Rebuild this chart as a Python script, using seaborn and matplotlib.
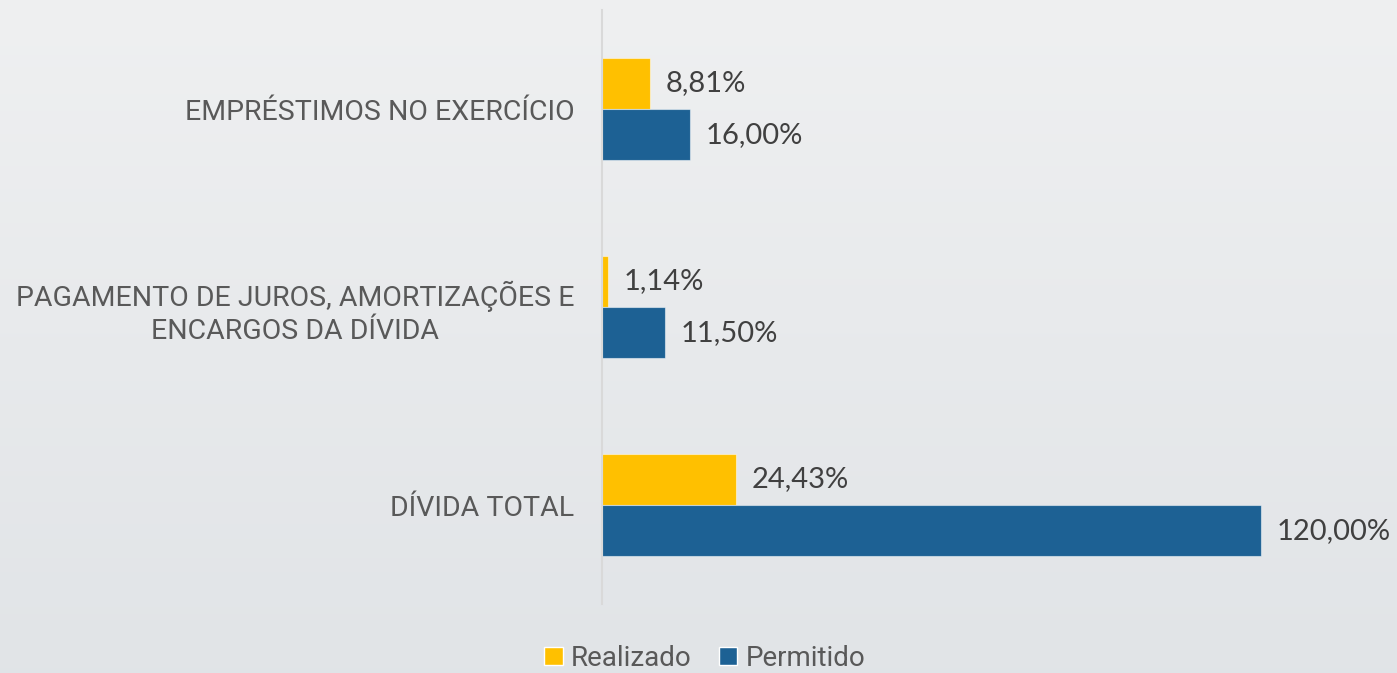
import numpy as np
import pandas as pd
import matplotlib
matplotlib.use("Agg")
import matplotlib.pyplot as plt
import seaborn as sns
from matplotlib.patches import Patch

# data
categorias = ["EMPRÉSTIMOS NO EXERCÍCIO",
              "PAGAMENTO DE JUROS, AMORTIZAÇÕES E\nENCARGOS DA DÍVIDA",
              "DÍVIDA TOTAL"]
realizado = [8.81, 1.14, 24.43]
permitido = [16.00, 11.50, 120.00]
series = ["Realizado", "Permitido"]
cores = ["#FFC000", "#1D6194"]

df = pd.DataFrame({
    "categoria": categorias * 2,
    "valor": realizado + permitido,
    "serie": [series[0]] * 3 + [series[1]] * 3,
})

sns.set_style("white")
narrow = ["Roboto", "DejaVu Sans"]
valfont = ["Lato", "DejaVu Sans"]

fig = plt.figure(figsize=(13.97, 6.73), dpi=100)

# background gradient
bg = fig.add_axes([0, 0, 1, 1], zorder=-10)
grad = np.linspace(0, 1, 256).reshape(-1, 1)
top = np.array([0.937, 0.941, 0.945])
bot = np.array([0.882, 0.894, 0.906])
img = top + (bot - top) * grad[..., None]
bg.imshow(img, aspect="auto", extent=[0, 1, 0, 1], origin="upper")
bg.axis("off")

ax = fig.add_axes([602 / 1397, 69 / 673, 769 / 1397, 594 / 673])
ax.patch.set_alpha(0)
sns.barplot(data=df, y="categoria", x="valor", hue="serie", hue_order=series,
            palette=cores, orient="h", width=0.52, ax=ax, legend=False,
            edgecolor=(1, 1, 1, 0.5), linewidth=0.8, saturation=1)

for cont in ax.containers:
    labels = [f"{b.get_width():.2f}".replace(".", ",") + "%" for b in cont]
    ax.bar_label(cont, labels=labels, padding=11, fontsize=21,
                 color="#404040", family=valfont)

ax.set_xlim(0, 140)
ax.set_ylim(2.5, -0.5)
ax.set_xlabel("")
ax.set_ylabel("")
ax.set_xticks([])
ax.tick_params(axis="y", length=0, pad=20)
for lab in ax.get_yticklabels():
    lab.set_family(narrow)
    lab.set_fontsize(20.5)
    lab.set_color("#595959")
    lab.set_multialignment("center")
    lab.set_linespacing(1.3)
for s in ["top", "right", "bottom"]:
    ax.spines[s].set_visible(False)
ax.spines["left"].set_color("#D9D9D9")
ax.spines["left"].set_linewidth(1.5)

handles = [Patch(facecolor=c, label=s) for s, c in zip(series, cores)]
fig.legend(handles=handles, loc="lower center", bbox_to_anchor=(705 / 1397, -0.035),
           ncol=2, frameon=False, handlelength=0.65, handleheight=0.65,
           handletextpad=0.3, columnspacing=1.0,
           prop={"family": narrow, "size": 20}, labelcolor="#595959")

fig.savefig("out.png", dpi=100)
